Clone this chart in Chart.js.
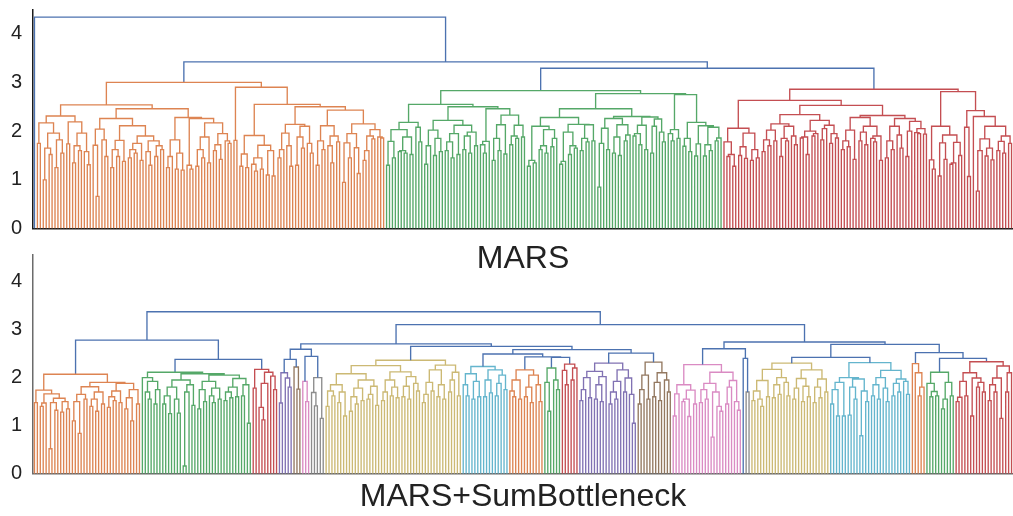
<!DOCTYPE html>
<html>
<head>
<meta charset="utf-8">
<script src="https://cdn.jsdelivr.net/npm/chart.js@4.4.1/dist/chart.umd.min.js"></script>
<style>
  html, body { margin: 0; padding: 0; background: #fff; overflow: hidden; }
  #wrap { position: relative; width: 1013px; height: 516px; }
  canvas { position: absolute; left: 0; }
  #mars { top: 0; }
  #sumb { top: 240px; }
</style>
</head>
<body>
<div id="wrap">
  <canvas id="mars" width="1013" height="278"></canvas>
  <canvas id="sumb" width="1013" height="276"></canvas>
</div>
<script>
const FONT = '"Liberation Sans", Arial, Helvetica, sans-serif';

const palette = {
  blue: "#4c72b0", orange: "#dd8452", green: "#55a868", red: "#c44e52", purple: "#8172b3",
  brown: "#937860", pink: "#da8bc3", grey: "#8c8c8c", yellow: "#ccb974", cyan: "#64b5cd",
};

// tree notation: [height, left, right]; a bare number is two leaves joined at that height; 0 is one leaf
// strings name a coloured cluster (colour = name without digits)

// ---- MARS ----
const marsOrange = [3.00,
  [2.54,
    [2.31,
      [2.17, 1.75, [1.96, [1.65, 1.0, 1.52], [1.82, 1.25, 1.55]]],
      [2.19, 1.74, [1.96, [1.70, 1.35, 1.60], [1.58, 0, 1.31]]]],
    [2.46,
      [2.26, [2.04, [1.71, 0, 0.66], [1.82, 0, 1.48]],
        [2.11, [1.81, [1.62, 1.25, 1.48], 1.38],
          [1.90, [1.75, [1.62, 1.45, 1.55], 1.40], [1.80, [1.58, 0, 1.30], [1.70, 1.48, 1.62]]]]],
      [2.28, [1.82, [1.48, 1.25, 0], [1.55, 1.22, 1.20]],
        [2.26, [1.30, 0, 1.22],
          [2.17, [1.88, [1.62, 1.28, 1.45], 1.35], [1.95, [1.72, 1.60, 1.42], [1.80, 0, 1.75]]]]]]],
  [2.90, 1.81,
    [2.55,
      [1.91, [1.53, 1.28, 1.25], [1.71, [1.45, [1.32, 0, 1.18], 1.22], [1.60, 1.10, 1.08]]],
      [2.50,
        [2.14, [1.96, [1.62, 1.45, 0], [1.70, 0, 1.28]], [2.10, [1.88, 1.30, 1.65], [1.75, 0, 1.55]]],
        [2.43,
          [2.11, [1.80, 1.30, 1.62], [1.90, [1.70, 0, 1.35], 1.78]],
          [2.15, [1.95, [1.76, 0.95, 1.45], [1.66, 0, 1.13]], [2.03, [1.90, [1.60, 1.40, 0], 1.84], [1.88, 0, 1.86]]]]]]]];

const marsGreen = [2.83,
  [2.55,
    [2.18, [2.03, [1.79, 1.30, 1.45], [1.88, [1.60, 1.58, 1.55], 1.52]], [2.08, 0, 1.78]],
    [2.50,
      [2.22, [2.02, [1.70, 1.32, 0], [1.85, 1.50, 1.58]], [2.12, [1.95, [1.78, 1.60, 1.45], 1.52], [1.98, [1.90, 1.62, 1.55], 1.70]]],
      [2.46, [1.79, [1.72, 0, 1.55], 0], [2.33, [2.13, [1.85, 1.40, 1.60], 1.53], [2.12, [1.90, 1.72, 1.85], 1.88]]]]],
  [2.77,
    [2.46,
      [2.28, [2.10, [1.40, 1.28, 1.35], [2.03, [1.70, 1.62, 1.55], [1.85, 1.68, 0]]], [2.14, [1.98, [1.38, 1.32, 0], [1.70, 1.52, 1.65]], [2.13, [1.85, 1.60, 1.78], 1.80]]],
      [2.30, [2.26, [2.06, [1.75, 0.85, 0], 1.62], [2.13, [1.88, 1.55, 1.50], [1.92, 1.80, 0]]], [2.29, [2.12, [1.95, 1.90, 1.72], 1.62], [2.25, [2.10, 1.55, 0], [1.98, 0, 1.78]]]]],
    [2.75, [2.03, [1.95, 0, 1.80], 1.85], [2.18, [1.85, 1.69, 1.58], [2.11, [1.74, 1.49, 0], [2.08, [1.72, 1.49, 1.60], [1.86, 1.80, 0]]]]]]];

const marsRed = [2.86,
  [2.63,
    [2.06, [1.78, 0, [1.52, 1.48, 1.28]], [1.96, [1.68, 1.50, 1.44], [1.62, 1.40, 1.45]]],
    [2.53,
      [2.34, [2.15, [2.02, [1.82, 1.58, 1.70], 1.80], [2.10, [1.85, 1.48, 1.80], [1.90, 0, 1.72]]], [2.22, [2.00, [1.88, 1.86, 1.52], [1.95, 1.90, 0]], [2.12, [2.05, 1.82, 0], [1.95, 1.75, 1.86]]]],
      [2.32, [2.28, [2.02, [1.80, 1.62, 1.68], 1.42], [2.10, [1.98, 1.80, 1.72], [1.90, [1.85, 0, 1.78], 1.40]]], [2.26, [2.10, [1.80, 1.45, 1.62], [1.92, 0, 1.65]], [2.20, [2.00, 1.48, 0], [2.05, [1.97, 0, 1.95], 1.94]]]]]],
  [2.81,
    [2.10, [1.41, 0, 1.22], [1.92, [1.76, 1.08, 1.42], [1.77, [1.35, 1.32, 0], 1.50]]],
    [2.42, [2.08, 0, 1.07], [2.30, 0, [2.10, [1.84, [1.60, 0.77, 0], [1.65, 1.49, 1.41]], [1.90, [1.79, 1.60, 1.55], 1.75]]]]]];

const marsLinks = [4.34, 0, [3.42, "orange", [3.29, "green", "red"]]];
const marsClusters = { orange: marsOrange, green: marsGreen, red: marsRed };

// ---- MARS+SumBottleneck ----
const sbOrange1 = [2.07,
  [1.74, 1.48, [1.66, [1.47, 1.40, 0], [1.57, [1.48, 0.52, 1.32], [1.50, 1.28, 1.35]]]],
  [1.90, [1.81, [1.65, [1.50, 1.10, 0.84], 1.55], [1.70, [1.55, 1.40, 1.30], 1.45]],
    [1.88, [1.72, [1.60, 1.38, 1.52], 1.48], [1.75, [1.58, 1.35, 1.10], 1.45]]]];
const sbGreen1 = [2.11,
  [2.00, 0, [1.92, [1.70, 0, 1.55], [1.75, 1.45, 0]]],
  [2.08, [1.95, [1.80, [1.62, 1.45, 1.25], [1.55, 0, 1.26]], [1.85, [1.70, 0.16, 0], 1.42]],
    [2.05, [1.92, [1.75, 1.35, 1.50], [1.78, [1.62, 0, 1.48], 1.55]], [1.98, [1.80, [1.70, 1.52, 1.58], 1.60], [1.85, 1.62, 1.05]]]]];
const sbRed1 = [2.17, 1.78, [2.11, [1.88, [1.38, 0, 1.12], 0], [2.03, 0, 1.75]]];
const sbPurple1 = [2.10, 1.47, [1.99, 0, 1.80]];
const sbBrown1 = [2.22, 0, 1.76];
const sbPink1 = [1.92, 0, 1.50];
const sbGrey1 = [2.00, [1.69, 0, 1.41], 1.15];
const sbYellow1 = [2.36,
  [2.25,
    [2.08, [1.85, [1.72, 1.40, 1.62], [1.70, 1.48, 1.20]], [1.95, [1.78, [1.60, 1.30, 1.45], 1.52], [1.82, [1.65, 1.55, 0], 1.42]]],
    [2.12, [1.95, [1.70, 1.52, 0], [1.80, 1.62, 1.58]], [2.02, [1.82, 1.60, 1.55], [1.88, 0, 1.72]]]],
  [2.26, [2.16, [1.90, [1.65, 1.48, 0], 1.72], [1.85, 1.60, 1.55]], [2.11, [1.95, 1.70, 0], 1.62]]];
const sbCyan1 = [2.23, [2.08, [1.85, 0, 1.62], [1.92, 1.55, 1.60]], [2.16, [1.95, 1.60, 1.68], [2.05, [1.88, 1.62, 0], 1.75]]];
const sbOrange2 = [2.16, [1.95, [1.72, 0, 1.60], 1.55], [2.05, [1.80, 1.60, 1.48], [1.85, 0, 1.50]]];
const sbGreen2 = [2.20, [1.90, 0, 1.30], [1.95, 0, 1.75]];
const sbRed2 = [2.28, [2.15, 0, 1.85], [2.20, 1.95, 0]];
const sbPurple2 = [2.30,
  [2.13, [2.00, [1.75, 1.52, 0], 1.58], [2.02, [1.85, 1.55, 1.50], 0]],
  [2.16, [1.92, [1.70, 1.45, 1.55], 0], [1.99, 1.70, [1.65, 0, 1.05]]]];
const sbBrown2 = [2.32, [2.05, [1.75, 1.45, 0], 1.55], [2.10, [1.90, 1.60, 1.52], [1.95, 0, 1.70]]];
const sbPink2 = [2.27,
  [1.85, [1.66, 1.20, 0], [1.74, [1.55, 1.50, 1.19], 1.45]],
  [2.11, [1.88, [1.75, 1.48, 1.55], [1.70, 0.76, [1.40, 0, 1.30]]], [1.94, [1.80, 1.45, 0], [1.50, 0, 1.32]]]];
const sbGrey2 = 1.70;
const sbYellow2 = [2.30,
  [2.17, [1.94, [1.72, 1.52, [1.55, 0, 1.40]], 1.60], [2.00, [1.85, 1.58, 1.65], [1.90, 0, 1.62]]],
  [2.16, [1.98, [1.78, 1.55, 0], [1.82, 1.50, 1.60]], [1.97, [1.80, 1.48, 1.58], 1.70]]];
const sbCyan2 = [2.31,
  [2.00, [1.90, [1.75, 1.45, 1.20], 1.20], [1.97, [1.80, 1.22, 1.55], [1.72, 0.79, 1.50]]],
  [2.15, [2.00, [1.85, 1.62, 1.55], [1.78, 0, 1.50]], [1.97, [1.88, 1.62, 1.70], [1.92, 0, 1.65]]]];
const sbOrange3 = [2.29, 0, [2.10, 0, [1.80, 1.62, 0]]];
const sbGreen3 = [2.11, [1.88, 0, [1.71, 1.60, 1.62]], [1.90, [1.55, 1.35, 0], 1.62]];
const sbRed3 = [2.33,
  [2.10, [1.92, [1.59, 1.50, 0], 1.62], [1.99, 1.20, [1.90, 1.80, 1.70]]],
  [2.24, [1.99, [1.85, 1.52, 1.70], 1.15], [2.10, 1.70, 0]]];

const sbLinks = [3.37,
  [2.78, "orange1", [2.38, "green1", "red1"]],
  [3.10,
    [2.70,
      [2.59, [2.38, "purple1", "brown1"], [2.44, "pink1", "grey1"]],
      [2.65, "yellow1", [2.58, [2.49, "cyan1", [2.43, "orange2", [2.42, "green2", "red2"]]], [2.51, "purple2", "brown2"]]]],
    [2.74,
      [2.60, "pink2", [2.40, 0, "grey2"]],
      [2.69, [2.42, "yellow2", "cyan2"], [2.52, "orange3", [2.40, "green3", "red3"]]]]]];
const sbClusters = {
  orange1: sbOrange1, green1: sbGreen1, red1: sbRed1, purple1: sbPurple1, brown1: sbBrown1,
  pink1: sbPink1, grey1: sbGrey1, yellow1: sbYellow1, cyan1: sbCyan1, orange2: sbOrange2,
  green2: sbGreen2, red2: sbRed2, purple2: sbPurple2, brown2: sbBrown2, pink2: sbPink2,
  grey2: sbGrey2, yellow2: sbYellow2, cyan2: sbCyan2, orange3: sbOrange3, green3: sbGreen3, red3: sbRed3,
};

// walk the tree, number the leaves left to right, collect one U per merge
const buildLinks = (links, clusters) => {
  const segs = {};
  let leaf = 0;
  const add = (color, pts) => {
    (segs[color] = segs[color] || []).push(...pts, { x: pts[3].x, y: null });
  };
  const walk = (node, color) => {
    if (typeof node === "string") return walk(clusters[node], node.replace(/\d/g, ""));
    if (node === 0) return { x: leaf++, y: 0 };
    let l, r, h;
    if (typeof node === "number") {
      h = node;
      l = { x: leaf++, y: 0 };
      r = { x: leaf++, y: 0 };
    } else {
      h = node[0];
      l = walk(node[1], color);
      r = walk(node[2], color);
    }
    add(color, [{ x: l.x, y: l.y }, { x: l.x, y: h }, { x: r.x, y: h }, { x: r.x, y: r.y }]);
    return { x: (l.x + r.x) / 2, y: h };
  };
  walk(links, "blue");
  return { segs, n: leaf };
};

const drawDendrogram = (id, links, clusters, title, yMax, axisColor, padTop, titlePad) => {
  const { segs, n } = buildLinks(links, clusters);
  const datasets = Object.keys(segs).map((c) => ({
    data: segs[c],
    borderColor: palette[c],
    borderWidth: 1.35,
    pointRadius: 0,
    showLine: true,
    spanGaps: false,
    tension: 0,
  }));
  new Chart(document.getElementById(id), {
    type: "scatter",
    data: { datasets },
    options: {
      responsive: false,
      animation: false,
      devicePixelRatio: 1,
      layout: { padding: { top: padTop, left: 0, right: 0, bottom: 0 } },
      plugins: { legend: { display: false }, tooltip: { enabled: false } },
      scales: {
        x: {
          type: "linear",
          min: -0.5,
          max: n - 0.5,
          grid: { display: false, drawTicks: false },
          ticks: { display: false },
          border: { color: axisColor, width: 1.5 },
          title: {
            display: true,
            text: title,
            color: "#222",
            font: { size: 32, family: FONT },
            padding: titlePad,
          },
        },
        y: {
          min: 0,
          max: yMax,
          afterFit: (s) => {
            s.width = 33;
            s.paddingTop = 0;
            s.paddingBottom = 0;
          },
          grid: { display: false, drawTicks: false },
          border: { color: axisColor, width: 1.5 },
          ticks: {
            stepSize: 1,
            includeBounds: false,
            color: "#222",
            padding: 11,
            font: { size: 20, family: FONT },
          },
        },
      },
    },
  });
};

drawDendrogram("mars", marsLinks, marsClusters, "MARS", 4.5, "#1a1a1a", 9.3, { top: 11, bottom: 0 });
drawDendrogram("sumb", sbLinks, sbClusters, "MARS+SumBottleneck", 4.55, "#6b6b6b", 15, { top: 3.9, bottom: 0 });
</script>
</body>
</html>
